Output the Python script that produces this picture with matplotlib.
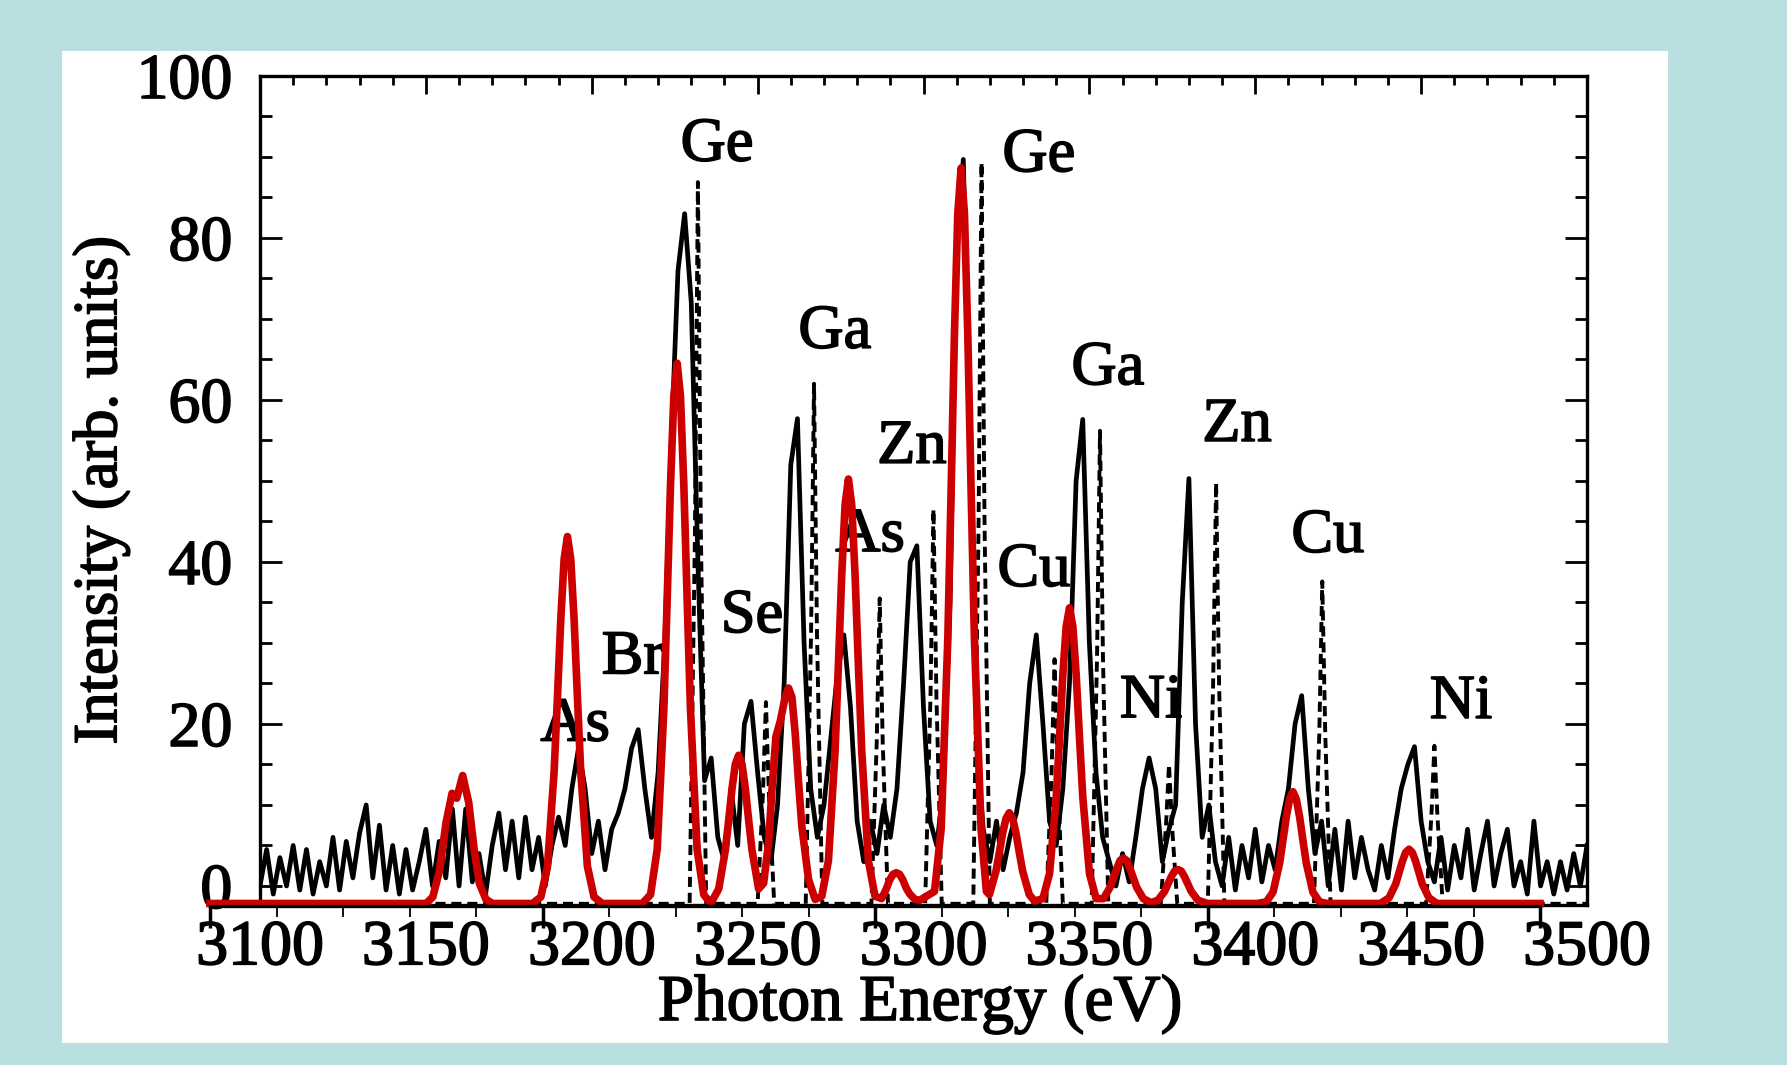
import numpy as np
import matplotlib.pyplot as plt
import matplotlib.patheffects as pe
from matplotlib.patches import Rectangle

plt.rcParams['font.family'] = ['Liberation Serif', 'DejaVu Serif']

# measured spectrum (scanned, solid black), sampled every 2 eV from 3100 to 3500
black_x = np.arange(3100, 3501, 2)
black_y = [0, 4.5, -1, 3.5, 0, 5, -0.5, 4.5, -1, 3,
           0, 6, -0.5, 5.5, 1, 6.5, 10, 1, 7.5, -0.5,
           5, -1, 4.5, -0.5, 3, 7, 0, 5.5, 1, 9.5,
           0, 9.5, 0.5, 4, -1, 5, 9, 2, 8, 1,
           8.5, 2, 6, 0, 5, 8.5, 5, 12, 17, 12,
           4, 8, 2, 7, 9, 12, 17, 19.3, 12, 6,
           14, 30, 55, 76, 83, 72, 40, 13, 15.8, 6,
           3, 12, 5, 20, 22.8, 14, 6, 3, 10, 25,
           52, 57.7, 30, 12, 6, 10, 18, 26, 31, 22,
           8, 3, 8, 4, 10, 6, 12, 25, 40, 42,
           22, 8, 5, 12, 35, 80, 89.7, 55, 18, 7,
           3, 8, 2, 6, 9, 14, 25, 31, 20, 8,
           5, 12, 25, 50, 57.6, 30, 14, 6, 3, 0,
           4, 0.5, 6, 12, 15.8, 12, 3, 7, 10, 35,
           50.3, 20, 6, 10, 3, 0, 6, -0.5, 5, 1,
           7, 0.5, 5, 2, 8, 12, 20, 23.5, 12, 4,
           8, 0, 7, -0.5, 8, 1, 6, 2, -0.5, 5,
           1, 7, 12, 15, 17.2, 8, 3, 0.5, 6, -0.5,
           5, 1, 7, -0.5, 4, 8, 0, 4, 7, 0,
           3, -1, 8, 0, 3, -1, 3, -0.5, 4, 0,
           5]

# calculated spectrum (scanned, dashed black)
dash_x = [3100,
          3229.5, 3231.1, 3232, 3232.9, 3234.5,
          3250, 3251.6, 3252.5, 3253.4, 3255,
          3264.5, 3266.1, 3267, 3267.9, 3269.5,
          3284.3, 3285.9, 3286.8, 3287.7, 3289.3,
          3300.5, 3302.1, 3303, 3303.9, 3305.5,
          3315, 3316.6, 3317.5, 3318.4, 3320,
          3337, 3338.6, 3339.5, 3340.4, 3342,
          3350.7, 3352.3, 3353.2, 3354.1, 3355.7,
          3371.5, 3373.1, 3374, 3374.9, 3376.5,
          3385.7, 3387.3, 3388.2, 3389.1, 3390.7,
          3417.7, 3419.3, 3420.2, 3421.1, 3422.7,
          3451.5, 3453.1, 3454, 3454.9, 3456.5,
          3500]
dash_y = [-2.2,
          -2.2, 43.5, 86.9, 43.5, -2.2,
          -2.2, 11.4, 22.7, 11.4, -2.2,
          -2.2, 31, 62, 31, -2.2,
          -2.2, 17.8, 35.5, 17.8, -2.2,
          -2.2, 23.3, 46.5, 23.3, -2.2,
          -2.2, 44.7, 89.3, 44.7, -2.2,
          -2.2, 14, 28, 14, -2.2,
          -2.2, 28.1, 56.2, 28.1, -2.2,
          -2.2, 7.5, 15, 7.5, -2.2,
          -2.2, 24.9, 49.8, 24.9, -2.2,
          -2.2, 18.8, 37.6, 18.8, -2.2,
          -2.2, 8.7, 17.3, 8.7, -2.2,
          -2.2]

# red overlay spectrum (own energy axis)
red_x = [3100, 3165,
         3167, 3169, 3171, 3172.8, 3174.2, 3176, 3177.8, 3179.5, 3181, 3183, 3185,
         3197, 3199.5, 3201.5, 3203.5, 3204.5, 3205.5, 3206.5, 3207.5, 3208.5, 3209.5,
         3210.5, 3211.5, 3213.5, 3215.5, 3218,
         3230, 3232.5, 3234.5, 3236.5, 3237.5, 3238.5, 3239.5, 3240.5, 3241.5, 3242.5,
         3243.5, 3244.5, 3246.5, 3248.5, 3250,
         3251, 3253, 3255, 3256, 3257, 3258, 3259, 3260, 3261, 3262, 3263, 3265,
         3266.5, 3268, 3269, 3270.2, 3271.5, 3273, 3274, 3275, 3276, 3277, 3278, 3280, 3282,
         3284, 3286, 3288, 3289, 3290, 3291, 3292, 3293, 3294, 3295, 3296, 3298, 3300,
         3302, 3303.4, 3304.4, 3305.4, 3306.4, 3307.4, 3308.4, 3309.4, 3310.4, 3312,
         3313.5, 3317.9, 3319.9, 3321.9, 3322.9, 3323.9, 3324.9, 3325.9, 3326.9, 3327.9,
         3328.9, 3329.9, 3331.9, 3333.5,
         3334.4, 3336.4, 3337.4, 3338.4, 3339.4, 3340.4, 3341.4, 3342.4, 3343.4, 3344.4,
         3346.4, 3348,
         3350.5, 3352.5, 3354.5, 3355.5, 3356.5, 3357.5, 3358.5, 3359.5, 3360.5, 3361.5,
         3362.5, 3364.5, 3366.5,
         3368.7, 3370.7, 3372.7, 3373.7, 3374.7, 3375.7, 3376.7, 3378.7, 3380.7, 3383,
         3385.1, 3387.1, 3389.1, 3390.1, 3391.1, 3392.1, 3393.1, 3395.1, 3397.1, 3400,
         3415, 3417.7, 3419.7, 3421.7, 3422.7, 3423.7, 3424.7, 3425.7, 3426.7, 3427.7,
         3428.7, 3429.7, 3431.7, 3433.7, 3436,
         3452, 3454.6, 3456.6, 3458.6, 3459.6, 3460.6, 3461.6, 3462.6, 3464.6, 3466.6, 3469,
         3500]
red_y = [0, 0,
         0.8, 4, 10, 13.6, 13.0, 15.8, 12.5, 6.5, 2.5, 0.5, 0,
         0, 0.8, 4.6, 16.3, 25.5, 35.1, 42.5, 45.3, 42.5, 35.1,
         25.5, 16.3, 4.6, 0.8, 0,
         0, 1.1, 6.7, 24.0, 37.6, 51.7, 62.6, 66.7, 62.6, 51.7,
         37.6, 24.0, 6.7, 1.1, 0.3,
         0.3, 1.8, 6.6, 10.3, 14.2, 17.2, 18.3, 17.2, 14.2, 10.3, 6.6, 1.8,
         2.5, 7.5, 14, 20.6, 22.5, 25.5, 26.6, 25.5, 21, 15, 9.5, 3, 0.5,
         0.9, 5.3, 18.9, 29.5, 40.6, 49.2, 52.4, 49.2, 40.6, 29.5, 18.9, 5.3, 0.9,
         0.6, 1.8, 2.9, 3.6, 3.8, 3.6, 2.9, 1.9, 1.2, 0.5,
         0.4, 1.5, 9.2, 32.7, 51.1, 70.4, 85.2, 90.8, 85.2, 70.4,
         51.1, 32.7, 9.2, 1.5,
         1.1, 4.0, 6.3, 8.7, 10.5, 11.2, 10.5, 8.7, 6.3, 4.0,
         1.1, 0.3,
         0.6, 3.7, 13.1, 20.5, 28.3, 34.2, 36.5, 34.2, 28.3, 20.5,
         13.1, 3.7, 0.6,
         0.6, 2.0, 4.3, 5.3, 5.6, 5.3, 4.3, 2.0, 0.6, 0.1,
         0.4, 1.5, 3.3, 4.0, 4.2, 4.0, 3.3, 1.5, 0.4, 0,
         0, 0.2, 1.4, 5.0, 7.8, 10.7, 12.9, 13.8, 12.9, 10.7,
         7.8, 5.0, 1.4, 0.2, 0,
         0, 0.7, 2.4, 5.2, 6.3, 6.7, 6.3, 5.2, 2.4, 0.7, 0,
         0]

x_ticks = [3100, 3150, 3200, 3250, 3300, 3350, 3400, 3450, 3500]
x_tick_labels = ['3100', '3150', '3200', '3250', '3300', '3350', '3400', '3450', '3500']
y_ticks = [0, 20, 40, 60, 80, 100]
y_tick_labels = ['0', '20', '40', '60', '80', '100']

# element labels of the scanned figure
elem_names = ['Ge', 'Ge', 'Ga', 'Ga', 'Zn', 'As', 'Se', 'Br', 'As', 'Cu', 'Ni', 'Zn', 'Cu', 'Ni']
elem_x = [3237.8, 3334.8, 3273.3, 3355.6, 3296.5, 3283.9, 3248.3, 3212.4, 3195.0,
          3333.3, 3368.6, 3394.5, 3421.9, 3462.0]
elem_y = [91.4, 90.1, 68.3, 63.8, 54.1, 43.2, 33.2, 28.1, 19.8,
          38.9, 22.7, 56.8, 43.1, 22.6]

ink = [pe.withStroke(linewidth=1.2, foreground='black')]

W, H = 1787, 1065
fig = plt.figure(figsize=(W / 100, H / 100), dpi=100)
fig.patch.set_facecolor('#b9dfe1')
fig.add_artist(Rectangle((62 / W, 1 - 1043 / H), (1668 - 62) / W, (1043 - 51) / H,
                         transform=fig.transFigure, facecolor='white',
                         edgecolor='none', zorder=-1))

# scanned plot
ax = fig.add_axes([260 / W, 1 - 905 / H, (1587 - 260) / W, (905 - 76) / H])
ax.set_facecolor('none')
ax.plot(black_x, black_y, color='black', lw=3.4)
ax.plot(dash_x, dash_y, color='black', lw=2.8, dashes=(2.6, 1.5))
ax.set_xlim(3100, 3500)
ax.set_ylim(-2.35, 100)
ax.set_xticks(x_ticks)
ax.set_xticklabels(x_tick_labels, fontsize=46)
ax.set_xticks(np.arange(3100, 3501, 10), minor=True)
ax.set_yticks(y_ticks)
ax.set_yticklabels(y_tick_labels, fontsize=46)
ax.set_yticks(np.arange(0, 101, 5), minor=True)
ax.tick_params(axis='x', which='both', direction='in', bottom=False, top=True,
               labelbottom=True, width=2)
ax.tick_params(axis='x', which='major', length=13, pad=11)
ax.tick_params(axis='x', which='minor', length=6.5)
ax.tick_params(axis='y', which='both', direction='in', left=True, right=True, width=2)
ax.tick_params(axis='y', which='major', length=16, pad=20)
ax.tick_params(axis='y', which='minor', length=8.5)
for s in ax.spines.values():
    s.set_linewidth(2.4)
for lab in ax.get_xticklabels() + ax.get_yticklabels():
    lab.set_path_effects(ink)

for name, x, y in zip(elem_names, elem_x, elem_y):
    ax.text(x, y, name, fontsize=45, ha='center', va='center', path_effects=ink)

# red overlay
axr = fig.add_axes([210 / W, 1 - 906 / H, 1330 / W, 830 / H])
axr.set_facecolor('none')
axr.plot(red_x, red_y, color='#cc0000', lw=5.5, solid_joinstyle='round', clip_on=False)
axr.set_xlim(3100, 3500)
axr.set_ylim(-0.31, 102.16)
for side in ['top', 'left', 'right']:
    axr.spines[side].set_visible(False)
axr.spines['bottom'].set_linewidth(2.4)
axr.set_yticks([])
axr.set_xticks(np.arange(3100, 3501, 100))
axr.set_xticks(np.arange(3100, 3501, 20), minor=True)
axr.tick_params(axis='x', which='major', direction='out', length=16, width=2.5,
                labelbottom=False)
axr.tick_params(axis='x', which='minor', direction='out', length=8, width=1.3)

fig.text(920 / W, 1 - 1020 / H, 'Photon Energy (eV)', ha='center', va='baseline',
         fontsize=47, path_effects=ink)
fig.text(101 / W, 1 - 490 / H, 'Intensity (arb. units)', rotation=90,
         ha='center', va='center', fontsize=45, path_effects=ink)

fig.savefig('out.png', dpi=100, facecolor=fig.get_facecolor())
